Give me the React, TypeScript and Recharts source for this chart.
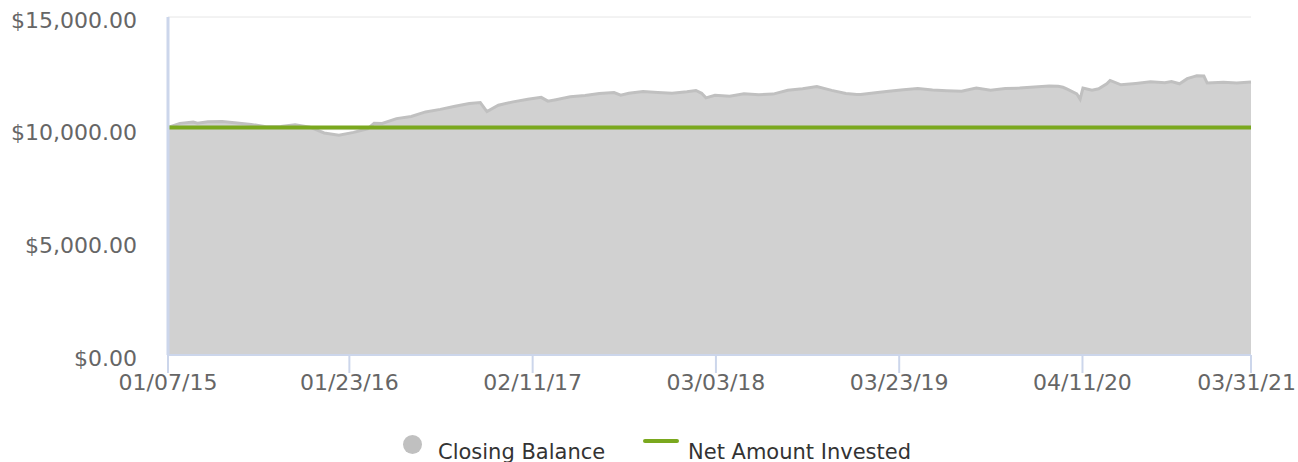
import React from 'react';
import { ComposedChart, Area, Line, XAxis, YAxis, CartesianGrid, Legend } from 'recharts';

const DATES = [
  '2015-01-07', '2015-02-01', '2015-03-01', '2015-03-10', '2015-04-01', '2015-05-01', '2015-06-01',
  '2015-07-01', '2015-08-01', '2015-09-01', '2015-10-01', '2015-11-01', '2015-12-01',
  '2016-01-01', '2016-02-01', '2016-03-01', '2016-03-15', '2016-04-01', '2016-05-01', '2016-06-01',
  '2016-07-01', '2016-08-01', '2016-09-01', '2016-10-01', '2016-10-24', '2016-11-07', '2016-12-01',
  '2017-01-01', '2017-02-01', '2017-03-01', '2017-03-15', '2017-04-01', '2017-05-01', '2017-06-01',
  '2017-07-01', '2017-08-01', '2017-08-15', '2017-09-01', '2017-10-01', '2017-11-01', '2017-12-01',
  '2018-01-01', '2018-01-20', '2018-02-01', '2018-02-10', '2018-03-01', '2018-04-01', '2018-05-01',
  '2018-06-01', '2018-07-01', '2018-08-01', '2018-09-01', '2018-10-01', '2018-11-01', '2018-12-01',
  '2018-12-24', '2019-01-01', '2019-02-01', '2019-03-01', '2019-04-01', '2019-05-01', '2019-06-01',
  '2019-07-01', '2019-08-01', '2019-09-01', '2019-10-01', '2019-11-01', '2019-12-01',
  '2020-01-01', '2020-02-01', '2020-02-20', '2020-03-01', '2020-03-10', '2020-03-30', '2020-04-06',
  '2020-04-12', '2020-05-01', '2020-05-15', '2020-06-01', '2020-06-08', '2020-07-01', '2020-08-01',
  '2020-09-01', '2020-10-01', '2020-10-15', '2020-11-01', '2020-11-17', '2020-12-01', '2020-12-07',
  '2020-12-22', '2020-12-29', '2021-02-01', '2021-03-01', '2021-03-31',
];

const BALANCE = [
  10100, 10280, 10343, 10290, 10356, 10360, 10298,
  10231, 10133, 10137, 10213, 10111, 9852,
  9754, 9879, 10039, 10285, 10276, 10490, 10583,
  10788, 10900, 11038, 11158, 11200, 10802, 11087,
  11234, 11346, 11435, 11265, 11332, 11457, 11515,
  11600, 11644, 11533, 11613, 11689, 11653, 11613,
  11680, 11738, 11613, 11413, 11524, 11480, 11591,
  11551, 11578, 11747, 11818, 11916, 11742, 11608,
  11560, 11564, 11635, 11702, 11769, 11822, 11756,
  11725, 11707, 11849, 11751, 11822, 11845,
  11894, 11934, 11925, 11880, 11800, 11591, 11355,
  11845, 11751, 11813, 12037, 12184, 11992, 12054,
  12126, 12081, 12139, 12037, 12263, 12354, 12390,
  12380, 12068, 12108, 12068, 12112,
];

const NET_INVESTED = 10100;

const X_TICKS = ['2015-01-07', '2016-01-23', '2017-02-11', '2018-03-03', '2019-03-23', '2020-04-11', '2021-03-31'];
const Y_TICKS = [0, 5000, 10000, 15000];

const toTime = (s: string) => Date.UTC(+s.slice(0, 4), +s.slice(5, 7) - 1, +s.slice(8, 10));

const data = DATES.map((d, i) => ({ t: toTime(d), balance: BALANCE[i], invested: NET_INVESTED }));

const pad = (n: number) => String(n).padStart(2, '0');
const fmtDate = (t: number) => {
  const d = new Date(t);
  return `${pad(d.getUTCMonth() + 1)}/${pad(d.getUTCDate())}/${pad(d.getUTCFullYear() % 100)}`;
};
const fmtMoney = (v: number) =>
  '$' + v.toLocaleString('en-US', { minimumFractionDigits: 2, maximumFractionDigits: 2 });

const FONT = '"DejaVu Sans", Verdana, sans-serif';
const WIDTH = 1298;

// y labels sit a few px below their grid line in the original
const YTick = ({ x, y, payload }: any) => (
  <text x={x} y={y + 3} dy="0.355em" textAnchor="end" fontFamily={FONT} fontSize={22} fill="#666666">
    {fmtMoney(payload.value)}
  </text>
);

// keep the last date label inside the canvas
const XTick = ({ x, y, payload }: any) => {
  const last = x + 50 > WIDTH;
  return (
    <text
      x={last ? WIDTH - 2 : x}
      y={y}
      dy="0.71em"
      textAnchor={last ? 'end' : 'middle'}
      fontFamily={FONT}
      fontSize={22}
      fill="#666666"
    >
      {fmtDate(payload.value)}
    </text>
  );
};

const renderLegend = () => (
  <div style={{ position: 'relative', width: WIDTH, height: 50, fontFamily: FONT, fontSize: 21, color: '#333333' }}>
    <div style={{ position: 'absolute', left: 403, top: 23, width: 19, height: 19, borderRadius: 10, background: '#c0c0c0' }} />
    <div style={{ position: 'absolute', left: 438, top: 29.5, lineHeight: '21px', whiteSpace: 'nowrap' }}>Closing Balance</div>
    <div style={{ position: 'absolute', left: 643, top: 27, width: 36, height: 4, borderRadius: 2, background: '#7aa81e' }} />
    <div style={{ position: 'absolute', left: 688, top: 29.5, lineHeight: '21px', whiteSpace: 'nowrap' }}>Net Amount Invested</div>
  </div>
);

export default function App() {
  return (
    <div style={{ position: 'absolute', left: 0, top: 0, width: WIDTH, height: 462, background: '#ffffff' }}>
      <ComposedChart width={WIDTH} height={462} data={data} margin={{ top: 17, right: 47, left: 0, bottom: 0 }}>
        <CartesianGrid vertical={false} stroke="#e6e6e6" />
        <XAxis
          dataKey="t"
          type="number"
          scale="time"
          domain={[toTime(X_TICKS[0]), toTime(X_TICKS[X_TICKS.length - 1])]}
          ticks={X_TICKS.map(toTime)}
          interval={0}
          height={57}
          tickSize={18}
          tickMargin={1}
          tick={<XTick />}
          axisLine={{ stroke: '#ccd6eb', strokeWidth: 2 }}
          tickLine={{ stroke: '#ccd6eb', strokeWidth: 2 }}
        />
        <YAxis
          domain={[0, 15000]}
          ticks={Y_TICKS}
          width={168}
          tickSize={0}
          tickMargin={31}
          tickLine={false}
          tick={<YTick />}
          axisLine={{ stroke: '#ccd6eb', strokeWidth: 3 }}
        />
        <Area
          type="linear"
          dataKey="balance"
          stroke="#c0c0c0"
          strokeWidth={3}
          fill="#d1d1d1"
          fillOpacity={1}
          isAnimationActive={false}
        />
        <Line
          type="linear"
          dataKey="invested"
          stroke="#7aa81e"
          strokeWidth={4}
          dot={false}
          activeDot={false}
          isAnimationActive={false}
        />
        <Legend verticalAlign="bottom" height={50} wrapperStyle={{ left: 0, width: WIDTH, bottom: 0 }} content={renderLegend} />
      </ComposedChart>
    </div>
  );
}
